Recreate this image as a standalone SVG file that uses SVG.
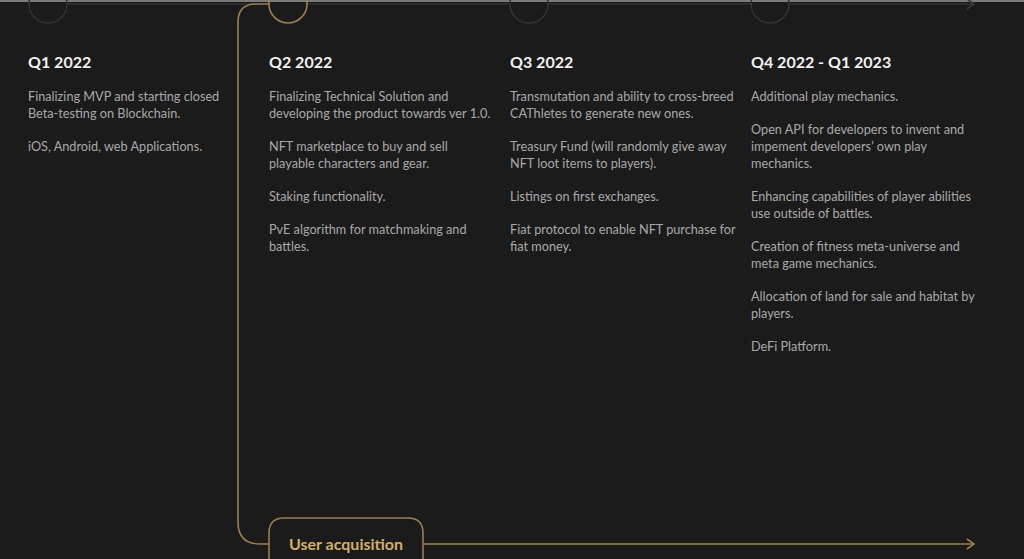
<svg xmlns="http://www.w3.org/2000/svg" width="1024" height="559" viewBox="0 0 1024 559">
<defs>
<style>
.t{font-family:Lato,"Open Sans",sans-serif;font-weight:700;font-size:16px;fill:#f2f2f2}
.b{font-family:Lato,"Open Sans",sans-serif;font-size:12.7px;fill:#a9a9a9}
.g{fill:none;stroke:#333333;stroke-width:1.5}
.o{fill:none;stroke:#9c804a;stroke-width:1.6}
</style>
<marker id="ag" markerWidth="10" markerHeight="12" refX="8" refY="6" orient="auto" markerUnits="userSpaceOnUse"><path d="M1,1 L8,6 L1,11" fill="none" stroke="#9c804a" stroke-width="1.6"/></marker>
<marker id="ay" markerWidth="10" markerHeight="12" refX="8" refY="6" orient="auto" markerUnits="userSpaceOnUse"><path d="M1,1 L8,6 L1,11" fill="none" stroke="#3a3a3a" stroke-width="1.6"/></marker>
</defs>
<rect width="1024" height="559" fill="#1b1b1b"/>
<rect width="1024" height="2" fill="#7a7a7a"/>
<g id="connectors">
<path class="g" d="M67,4 H255"/>
<path class="g" d="M307,4 H510"/>
<path class="g" d="M548,4 H751"/>
<path class="g" d="M789,4 H974" marker-end="url(#ay)"/>
<path class="o" d="M269,4 H256 Q238,4 238,22 V522 Q238,544 260,544 H269"/>
<path class="o" d="M423,544 H974" marker-end="url(#ag)"/>
</g>
<g id="q1">
<circle class="g" cx="48" cy="4" r="19"/>
<text class="t" x="28" y="68">Q1 2022</text>
<text class="b" x="28" y="101">Finalizing MVP and starting closed</text>
<text class="b" x="28" y="118">Beta-testing on Blockchain.</text>
<text class="b" x="28" y="151">iOS, Android, web Applications.</text>
</g>
<g id="q2">
<circle class="o" cx="288" cy="4" r="19"/>
<text class="t" x="269" y="68">Q2 2022</text>
<text class="b" x="269" y="101">Finalizing Technical Solution and</text>
<text class="b" x="269" y="118">developing the product towards ver 1.0.</text>
<text class="b" x="269" y="151">NFT marketplace to buy and sell</text>
<text class="b" x="269" y="168">playable characters and gear.</text>
<text class="b" x="269" y="201">Staking functionality.</text>
<text class="b" x="269" y="234">PvE algorithm for matchmaking and</text>
<text class="b" x="269" y="251">battles.</text>
</g>
<g id="q3">
<circle class="g" cx="529" cy="4" r="19"/>
<text class="t" x="510" y="68">Q3 2022</text>
<text class="b" x="510" y="101">Transmutation and ability to cross-breed</text>
<text class="b" x="510" y="118">CAThletes to generate new ones.</text>
<text class="b" x="510" y="151">Treasury Fund (will randomly give away</text>
<text class="b" x="510" y="168">NFT loot items to players).</text>
<text class="b" x="510" y="201">Listings on first exchanges.</text>
<text class="b" x="510" y="234">Fiat protocol to enable NFT purchase for</text>
<text class="b" x="510" y="251">fiat money.</text>
</g>
<g id="q4">
<circle class="g" cx="770" cy="4" r="19"/>
<text class="t" x="751" y="68">Q4 2022 - Q1 2023</text>
<text class="b" x="751" y="101">Additional play mechanics.</text>
<text class="b" x="751" y="134">Open API for developers to invent and</text>
<text class="b" x="751" y="151">impement developers’ own play</text>
<text class="b" x="751" y="168">mechanics.</text>
<text class="b" x="751" y="201">Enhancing capabilities of player abilities</text>
<text class="b" x="751" y="218">use outside of battles.</text>
<text class="b" x="751" y="251">Creation of fitness meta-universe and</text>
<text class="b" x="751" y="268">meta game mechanics.</text>
<text class="b" x="751" y="301">Allocation of land for sale and habitat by</text>
<text class="b" x="751" y="318">players.</text>
<text class="b" x="751" y="351">DeFi Platform.</text>
</g>
<g id="user-acquisition">
<path d="M269,565 V533 Q269,518 284,518 H408 Q423,518 423,533 V565" fill="#1b1b1b" stroke="#9c804a" stroke-width="1.6"/>
<text x="346" y="550" text-anchor="middle" font-family="Lato,'Open Sans',sans-serif" font-weight="700" font-size="16" fill="#d2b06a">User acquisition</text>
</g>
</svg>
